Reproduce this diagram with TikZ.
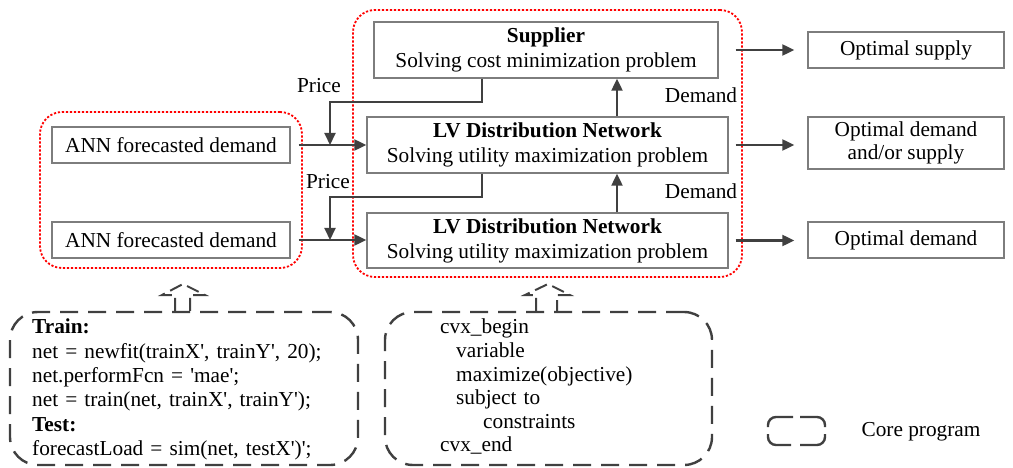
\documentclass[tikz,border=0pt]{standalone}
\usepackage{fontspec}
\setmainfont{Liberation Serif}
\usetikzlibrary{arrows.meta,calc}
\definecolor{boxgray}{RGB}{125,125,125}
\definecolor{linegray}{RGB}{64,64,64}
\newcommand\sq{\textquotesingle}
\begin{document}
\begin{tikzpicture}[x=1pt,y=-1pt,
  font=\fontsize{21.3}{25}\selectfont,
  box/.style={draw=boxgray,line width=1.3pt,inner sep=0pt,align=center},
  redbox/.style={draw=red,line width=1.8pt,dash pattern=on 2.2pt off 1.8pt,rounded corners=22pt,inner sep=0pt},
  codebox/.style={draw=linegray,line width=2.4pt,dash pattern=on 18pt off 10pt,rounded corners=28pt,inner sep=0pt},
  callout/.style={draw=linegray,line width=2pt,dash pattern=on 13pt off 6pt},
  conn/.style={draw=linegray,line width=2pt},
  arr/.style={conn,-{Triangle[length=12pt,width=11pt]}},
  lbl/.style={inner sep=0pt}]
\useasboundingbox (0,0) rectangle (1013,468);
% red dotted groups
\node[redbox,minimum width=262pt,minimum height=156pt] (redL) at (171,190) {};
\node[redbox,minimum width=389pt,minimum height=267pt] (redR) at (547.5,143.5) {};
% boxes
\node[box,minimum width=238pt,minimum height=36pt] (ann1) at (171,145) {ANN forecasted demand};
\node[box,minimum width=238pt,minimum height=36pt] (ann2) at (171,240) {ANN forecasted demand};
\node[box,minimum width=344pt,minimum height=56pt] (sup) at (546,50) {\textbf{Supplier}\\Solving cost minimization problem};
\node[box,minimum width=361pt,minimum height=56pt] (lv1) at (547.5,145) {\textbf{LV Distribution Network}\\Solving utility maximization problem};
\node[box,minimum width=361pt,minimum height=55pt] (lv2) at (547.5,240.5) {\textbf{LV Distribution Network}\\Solving utility maximization problem};
\node[box,minimum width=196pt,minimum height=36pt] (out1) at (906,50) {Optimal supply};
\node[box,minimum width=196pt,minimum height=52pt,font=\fontsize{21.3}{23}\selectfont] (out2) at (906,143) {Optimal demand\\and/or supply};
\node[box,minimum width=196pt,minimum height=36pt] (out3) at (906,240) {Optimal demand};
% helper coordinates
\coordinate (k1) at (482,102);
\coordinate (k2) at (482,197);
\coordinate (jx) at (330,0);
\coordinate (dx) at (617,0);
% horizontal inputs
\draw[arr] ($(ann1.east)+(8,0)$) -- (lv1.west);
\draw[arr] ($(ann2.east)+(8,0)$) -- (ann2.east -| lv2.west);
% price arrows
\draw[arr] (sup.south -| k1) -- (k1) -| (jx |- ann1.east);
\draw[arr] (lv1.south -| k2) -- (k2) -| (jx |- ann2.east);
% demand arrows
\draw[arr] (lv1.north -| dx) -- (sup.south -| dx);
\draw[arr] (lv2.north -| dx) -- (lv1.south -| dx);
% outputs
\draw[arr,shorten >=13pt] ($(sup.east -| lv1.east)+(7,0)$) -- (out1.west);
\draw[arr,shorten >=13pt] ($(lv1.east)+(7,0)$) -- (out2.west |- lv1.east);
\draw[arr,shorten >=13pt] ($(lv2.east)+(7,0)$) -- (out3.west |- lv2.east);
% labels
\node[lbl] (pr1) at (319,86) {Price};
\node[lbl] (pr2) at (328,182) {Price};
\node[lbl] (dm1) at (701,95) {Demand};
\node[lbl] (dm2) at (701,191) {Demand};
% code boxes
\node[codebox,minimum width=348pt,minimum height=153pt] (code1) at (184,388.5) {};
\node[lbl,text width=320pt,align=left,font=\fontsize{21.3}{24.3}\selectfont,anchor=north west] (train) at (32,319)
 {\textbf{Train:}\\net = newfit(trainX\sq, trainY\sq, 20);\\net.performFcn = \sq mae\sq;\\net = train(net, trainX\sq, trainY\sq);\\\textbf{Test:}\\forecastLoad = sim(net, testX\sq)\sq;};
\node[codebox,minimum width=327pt,minimum height=153pt] (code2) at (548.5,388.5) {};
\node[lbl,text width=260pt,align=left,font=\fontsize{21.3}{23.6}\selectfont,anchor=north west] (cvx) at (440,319)
 {cvx\_begin\\\hspace*{16pt}variable\\\hspace*{16pt}maximize(objective)\\\hspace*{16pt}subject to\\\hspace*{43pt}constraints\\cvx\_end};
% callout pointers
\draw[callout] (code1.north -| 175,0) -- (175,295) -- (162,295) -- (183,284) -- (205,295) -- (190,295) -- (code1.north -| 190,0);
\draw[callout] (code2.north -| 536,0) -- (536,295) -- (525,295) -- (548,284) -- (570,295) -- (557,295) -- (code2.north -| 557,0);
% legend
\node[minimum width=57pt,minimum height=28pt,inner sep=0pt] (leg) at (796.5,431) {};
\draw[conn,line width=2.4pt,rounded corners=8pt] (793,417) -| (768,427);
\draw[conn,line width=2.4pt,rounded corners=8pt] (768,434) |- (791,445);
\draw[conn,line width=2.4pt,rounded corners=8pt] (800,445) -| (825,434);
\draw[conn,line width=2.4pt,rounded corners=8pt] (825,427) |- (800,417);
\node[lbl] (legt) at (921,432) {Core program};
\end{tikzpicture}
\end{document}
